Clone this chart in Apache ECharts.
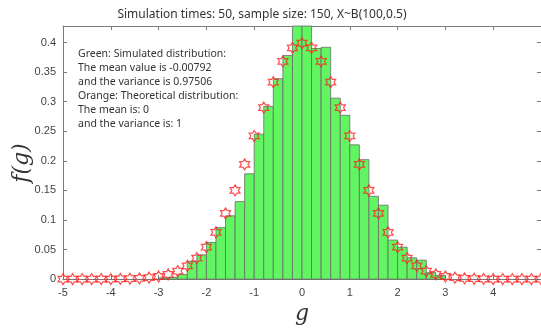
<!DOCTYPE html>
<html>
<head>
<meta charset="utf-8">
<script src="https://cdn.jsdelivr.net/npm/echarts@6/dist/echarts.min.js"></script>
<style>
  html, body { margin: 0; padding: 0; background: #fff; }
  #chart { width: 541px; height: 330px; }
</style>
</head>
<body>
<div id="chart"></div>
<script>
// histogram bins (left edge, width 0.2) and their density heights
const binLeft = [-3.0, -2.8, -2.6, -2.4, -2.2, -2.0, -1.8, -1.6, -1.4, -1.2, -1.0, -0.8, -0.6, -0.4, -0.2,
  0.0, 0.2, 0.4, 0.6, 0.8, 1.0, 1.2, 1.4, 1.6, 1.8, 2.0, 2.2, 2.4, 2.6, 2.8]
const binHeight = [0.002, 0.003, 0.008, 0.030, 0.041, 0.062, 0.087, 0.107, 0.131, 0.178, 0.245, 0.292, 0.339, 0.378, 0.445,
  0.445, 0.390, 0.392, 0.306, 0.277, 0.227, 0.202, 0.140, 0.125, 0.066, 0.054, 0.036, 0.032, 0.011, 0.006]
const binWidth = 0.2

// theoretical density points (red hexagrams)
const starX = [-5.0, -4.8, -4.6, -4.4, -4.2, -4.0, -3.8, -3.6, -3.4, -3.2, -3.0, -2.8, -2.6, -2.4, -2.2, -2.0, -1.8,
  -1.6, -1.4, -1.2, -1.0, -0.8, -0.6, -0.4, -0.2, 0.0, 0.2, 0.4, 0.6, 0.8, 1.0, 1.2, 1.4, 1.6, 1.8, 2.0, 2.2, 2.4,
  2.6, 2.8, 3.0, 3.2, 3.4, 3.6, 3.8, 4.0, 4.2, 4.4, 4.6, 4.8, 5.0]
const starY = [0.0000, 0.0000, 0.0000, 0.0000, 0.0001, 0.0001, 0.0003, 0.0006, 0.0012, 0.0024, 0.0044, 0.0079, 0.0136,
  0.0224, 0.0355, 0.054, 0.079, 0.111, 0.150, 0.194, 0.242, 0.290, 0.333, 0.368, 0.391, 0.399, 0.391, 0.368, 0.333,
  0.290, 0.242, 0.194, 0.150, 0.111, 0.079, 0.054, 0.0355, 0.0224, 0.0136, 0.0079, 0.0044, 0.0024, 0.0012, 0.0006,
  0.0003, 0.0001, 0.0001, 0.0000, 0.0000, 0.0000, 0.0000]

const titleText = 'Simulation times: 50, sample size: 150, X~B(100,0.5)'
const noteLines = [
  'Green: Simulated distribution:',
  'The mean value is -0.00792',
  'and the variance is 0.97506',
  'Orange: Theoretical distribution:',
  'The mean is: 0',
  'and the variance is: 1'
]

const hexagram = 'path://M0 -100 L28.9 -50 L86.6 -50 L57.7 0 L86.6 50 L28.9 50 L0 100 L-28.9 50 L-86.6 50 L-57.7 0 L-86.6 -50 L-28.9 -50 Z'

const axisGray = '#7a7a7a'
const labelGray = '#444'

const chart = echarts.init(document.getElementById('chart'))

// box axis: the same settings on all four sides, labels only bottom/left
const boxLine = { show: true, onZero: false, lineStyle: { color: axisGray } }
const boxTick = { show: true, inside: true, length: 4, lineStyle: { color: axisGray } }

const option = {
  animation: false,
  title: {
    text: titleText,
    left: 257,
    textAlign: 'center',
    top: 4,
    textStyle: { fontFamily: 'Noto Sans', fontSize: 12, fontWeight: 'normal', color: '#333' }
  },
  grid: { left: 63, right: -3, top: 26, bottom: 45 },
  xAxis: [
    {
      type: 'value',
      min: -5,
      max: 5,
      interval: 1,
      position: 'bottom',
      name: 'g',
      nameLocation: 'middle',
      nameGap: 22,
      nameTextStyle: { fontFamily: 'DejaVu Serif', fontStyle: 'italic', fontSize: 22, color: '#333' },
      axisLine: boxLine,
      axisTick: boxTick,
      axisLabel: { color: labelGray, fontFamily: 'Liberation Sans', fontSize: 11, margin: 8, showMaxLabel: false },
      splitLine: { show: false }
    },
    {
      type: 'value',
      min: -5,
      max: 5,
      interval: 1,
      position: 'top',
      axisLine: boxLine,
      axisTick: boxTick,
      axisLabel: { show: false },
      splitLine: { show: false }
    }
  ],
  yAxis: [
    {
      type: 'value',
      min: 0,
      max: 0.428,
      interval: 0.05,
      position: 'left',
      axisLine: boxLine,
      axisTick: boxTick,
      axisLabel: {
        color: labelGray,
        fontFamily: 'Liberation Sans',
        fontSize: 11,
        margin: 7,
        showMaxLabel: false,
        formatter: (v) => String(parseFloat(v.toFixed(2)))
      },
      splitLine: { show: false }
    },
    {
      type: 'value',
      min: 0,
      max: 0.428,
      interval: 0.05,
      position: 'right',
      axisLine: boxLine,
      axisTick: boxTick,
      axisLabel: { show: false },
      splitLine: { show: false }
    }
  ],
  graphic: [
    {
      type: 'text',
      left: 78,
      top: 47,
      z: 100,
      style: {
        text: noteLines.join('\n'),
        fontFamily: 'Noto Sans',
        fontSize: 10.5,
        lineHeight: 14,
        fill: '#333'
      }
    },
    {
      type: 'text',
      x: 22,
      y: 163,
      rotation: Math.PI / 2,
      style: {
        text: 'f(g)',
        fontFamily: 'DejaVu Serif',
        fontStyle: 'italic',
        fontSize: 22,
        fill: '#333',
        align: 'center',
        verticalAlign: 'middle'
      }
    }
  ],
  series: [
    {
      name: 'simulated',
      type: 'custom',
      data: binLeft.map((x, i) => [x, x + binWidth, binHeight[i]]),
      renderItem: (params, api) => {
        const p0 = api.coord([api.value(0), api.value(2)])
        const p1 = api.coord([api.value(1), 0])
        const shape = echarts.graphic.clipRectByRect(
          { x: p0[0], y: p0[1], width: p1[0] - p0[0], height: p1[1] - p0[1] },
          { x: params.coordSys.x, y: params.coordSys.y, width: params.coordSys.width, height: params.coordSys.height }
        )
        return shape && {
          type: 'rect',
          shape,
          style: { fill: '#62f562', stroke: '#6a6a6a', lineWidth: 0.8 }
        }
      },
      z: 2
    },
    {
      name: 'theoretical',
      type: 'scatter',
      data: starX.map((x, i) => [x, starY[i]]),
      symbol: hexagram,
      symbolSize: [10, 11],
      itemStyle: { color: 'rgba(0,0,0,0)', borderColor: '#ff2020', borderWidth: 1.2 },
      z: 3
    }
  ]
}

chart.setOption(option)
</script>
</body>
</html>
